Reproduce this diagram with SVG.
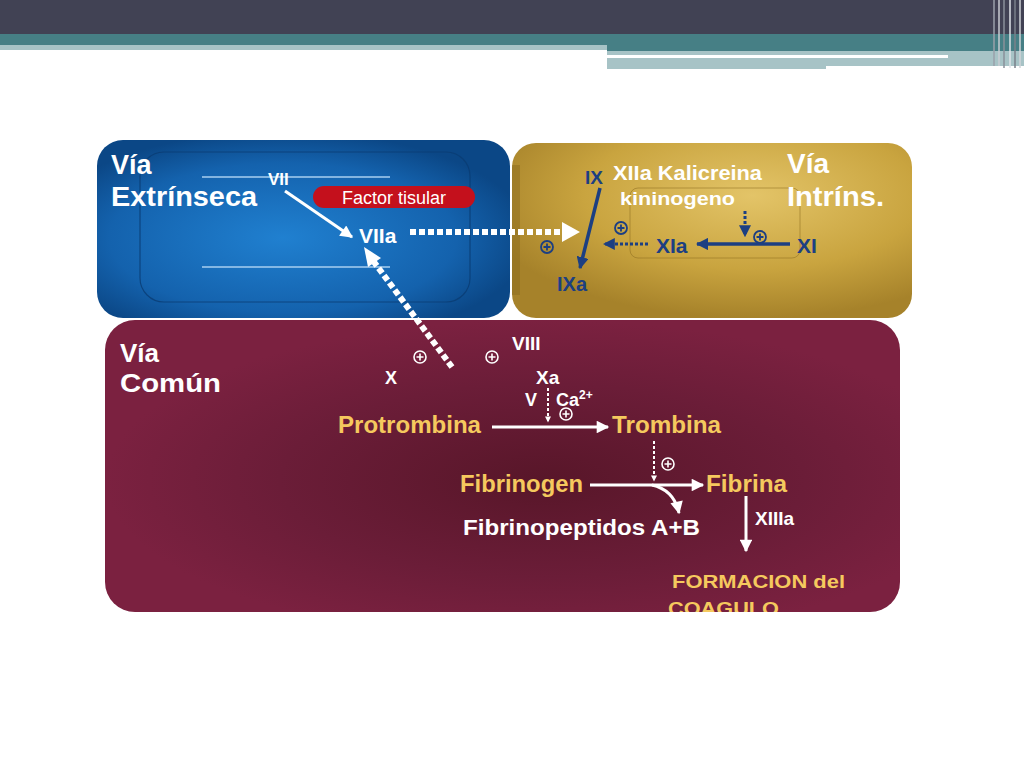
<svg xmlns="http://www.w3.org/2000/svg" width="1024" height="768" viewBox="0 0 1024 768">
<defs>
<style>
.t{font-family:"Liberation Sans",Arial,sans-serif;font-weight:bold}
.w{fill:#ffffff}
.y{fill:#f5c95e}
.b{fill:#1c3f82}
.wl{stroke:#ffffff;fill:none;stroke-width:3}
.bl{stroke:#1c3f82;fill:none;stroke-width:3.5}
.dotw{stroke:#ffffff;fill:none;stroke-width:6;stroke-dasharray:6 3}
.dotb{stroke:#1c3f82;fill:none;stroke-width:3;stroke-dasharray:3 2}
.dotw2{stroke:#ffffff;fill:none;stroke-width:2;stroke-dasharray:3 2}
</style>
<radialGradient id="gBlue" cx="0.45" cy="0.55" r="0.6">
<stop offset="0" stop-color="#2080d0"/><stop offset="0.7" stop-color="#1462ad"/><stop offset="1" stop-color="#0b4786"/>
</radialGradient>
<radialGradient id="gGold" cx="0.6" cy="0.3" r="0.7">
<stop offset="0" stop-color="#e3c468"/><stop offset="0.6" stop-color="#c9a43f"/><stop offset="1" stop-color="#a6822a"/>
</radialGradient>
<radialGradient id="gMar" cx="0.55" cy="0.55" r="0.55">
<stop offset="0" stop-color="#581629"/><stop offset="0.6" stop-color="#6b1d38"/><stop offset="1" stop-color="#7b2140"/>
</radialGradient>
<marker id="ab" viewBox="0 0 10 10" refX="9" refY="5" markerWidth="3.5" markerHeight="3.5" orient="auto" markerUnits="strokeWidth"><path d="M0,0 L10,5 L0,10 z" fill="#1c3f82"/></marker>
<marker id="aws" viewBox="0 0 10 10" refX="9" refY="5" markerWidth="3.5" markerHeight="3" orient="auto" markerUnits="strokeWidth"><path d="M0,0 L10,5 L0,10 z" fill="#ffffff"/></marker>
<marker id="abd" viewBox="0 0 10 10" refX="9" refY="5" markerWidth="4" markerHeight="4" orient="auto" markerUnits="strokeWidth"><path d="M0,0 L10,5 L0,10 z" fill="#1c3f82"/></marker>
<marker id="aww" viewBox="0 0 10 10" refX="9" refY="5" markerWidth="4.6" markerHeight="4.2" orient="auto" markerUnits="strokeWidth"><path d="M0,0 L10,5 L0,10 z" fill="#ffffff"/></marker>
<symbol id="plusW" viewBox="-8 -8 16 16" overflow="visible"><circle r="6" fill="none" stroke="#ffffff" stroke-width="1.6"/><path d="M-3.5,0 H3.5 M0,-3.5 V3.5" stroke="#ffffff" stroke-width="1.6"/></symbol>
<symbol id="plusB" viewBox="-8 -8 16 16" overflow="visible"><circle r="6" fill="none" stroke="#1c3f82" stroke-width="1.8"/><path d="M-3.5,0 H3.5 M0,-3.5 V3.5" stroke="#1c3f82" stroke-width="1.8"/></symbol>
<clipPath id="cMar"><rect x="105" y="320" width="795" height="292" rx="30"/></clipPath>
</defs>
<rect width="1024" height="768" fill="#ffffff"/>
<g id="header">
<rect x="0" y="0" width="1024" height="34" fill="#414254"/>
<rect x="0" y="34" width="1024" height="11" fill="#467f85"/>
<rect x="0" y="45" width="607" height="5" fill="#a7c3c6"/>
<rect x="607" y="45" width="417" height="6" fill="#467f85"/>
<rect x="607" y="51" width="417" height="4" fill="#a7c3c6"/>
<rect x="607" y="55" width="341" height="3" fill="#ffffff"/>
<rect x="948" y="55" width="76" height="3" fill="#a7c3c6"/>
<rect x="607" y="58" width="417" height="8" fill="#a7c3c6"/>
<rect x="607" y="66" width="219" height="3" fill="#a7c3c6"/>
<g stroke-width="1.5">
<line x1="994" y1="0" x2="994" y2="66" stroke="#9aa0aa"/>
<line x1="999" y1="0" x2="999" y2="66" stroke="#c8ccd2"/>
<line x1="1004" y1="0" x2="1004" y2="68" stroke="#8a909a"/>
<line x1="1010" y1="0" x2="1010" y2="68" stroke="#e0e4e8"/>
<line x1="1015" y1="0" x2="1015" y2="68" stroke="#7a808a"/>
<line x1="1020" y1="0" x2="1020" y2="68" stroke="#d0d4d8"/>
</g>
</g>
<g id="via-extrinseca">
<rect x="97" y="140" width="413" height="178" rx="26" fill="url(#gBlue)"/>
<rect x="140" y="152" width="330" height="150" rx="24" fill="none" stroke="#0a3c73" stroke-width="1.2" opacity="0.8"/>
<line x1="202" y1="177" x2="390" y2="177" stroke="#a8cff0" stroke-width="1.5"/>
<line x1="202" y1="267" x2="390" y2="267" stroke="#a8cff0" stroke-width="1.5"/>
<text class="t w" x="111" y="174" font-size="27">Vía</text>
<text class="t w" x="111" y="206" font-size="27" textLength="146" lengthAdjust="spacingAndGlyphs">Extrínseca</text>
<text class="t w" x="268" y="185" font-size="17">VII</text>
<rect x="313" y="186" width="162" height="22" rx="11" fill="#c4101c"/>
<text x="394" y="204" font-family="'Liberation Sans',Arial,sans-serif" font-size="18" fill="#ffffff" text-anchor="middle">Factor tisular</text>
<text class="t w" x="359" y="243" font-size="21">VIIa</text>
</g>
<g id="via-intrinseca">
<rect x="512" y="143" width="400" height="175" rx="24" fill="url(#gGold)"/>
<rect x="512" y="165" width="8" height="130" fill="#8c6c1e" opacity="0.5"/>
<rect x="630" y="188" width="170" height="70" rx="8" fill="none" stroke="#8f6f22" stroke-width="0.8" opacity="0.7"/>
<text class="t b" x="585" y="184" font-size="19">IX</text>
<text class="t w" x="613" y="180" font-size="20" textLength="149" lengthAdjust="spacingAndGlyphs">XIIa Kalicreina</text>
<text class="t w" x="620" y="205" font-size="19" textLength="115" lengthAdjust="spacingAndGlyphs">kininogeno</text>
<text class="t w" x="787" y="173" font-size="28">Vía</text>
<text class="t w" x="787" y="206" font-size="28" textLength="97" lengthAdjust="spacingAndGlyphs">Intríns.</text>
<text class="t b" x="656" y="253" font-size="21">XIa</text>
<text class="t b" x="797" y="253" font-size="21">XI</text>
<text class="t b" x="557" y="291" font-size="20">IXa</text>
<use href="#plusB" x="539" y="239" width="16" height="16"/>
<use href="#plusB" x="613" y="220" width="16" height="16"/>
<use href="#plusB" x="752" y="229" width="16" height="16"/>
</g>
<g id="via-comun">
<rect x="105" y="320" width="795" height="292" rx="30" fill="url(#gMar)"/>
<text class="t w" x="120" y="362" font-size="26">Vía</text>
<text class="t w" x="120" y="392" font-size="26" textLength="101" lengthAdjust="spacingAndGlyphs">Común</text>
<text class="t w" x="385" y="384" font-size="18">X</text>
<text class="t w" x="512" y="350" font-size="19">VIII</text>
<text class="t w" x="536" y="384" font-size="19">Xa</text>
<text class="t w" x="525" y="406" font-size="18">V</text>
<text class="t w" x="556" y="406" font-size="18">Ca<tspan font-size="12" dy="-7">2+</tspan></text>
<use href="#plusW" x="558" y="406" width="16" height="16"/>
<use href="#plusW" x="412" y="349" width="16" height="16"/>
<use href="#plusW" x="484" y="349" width="16" height="16"/>
<use href="#plusW" x="660" y="456" width="16" height="16"/>
<text class="t y" x="338" y="433" font-size="23" textLength="143" lengthAdjust="spacingAndGlyphs">Protrombina</text>
<text class="t y" x="612" y="433" font-size="23" textLength="109" lengthAdjust="spacingAndGlyphs">Trombina</text>
<text class="t y" x="460" y="492" font-size="23" textLength="123" lengthAdjust="spacingAndGlyphs">Fibrinogen</text>
<text class="t y" x="706" y="492" font-size="23" textLength="81" lengthAdjust="spacingAndGlyphs">Fibrina</text>
<text class="t w" x="463" y="535" font-size="22" textLength="237" lengthAdjust="spacingAndGlyphs">Fibrinopeptidos A+B</text>
<text class="t w" x="755" y="525" font-size="19">XIIIa</text>
<g clip-path="url(#cMar)">
<text class="t y" x="672" y="588" font-size="19" textLength="173" lengthAdjust="spacingAndGlyphs">FORMACION del</text>
<text class="t y" x="668" y="615" font-size="19" textLength="111" lengthAdjust="spacingAndGlyphs">COAGULO</text>
</g>
</g>
<g id="connectors">
<line x1="285" y1="191" x2="352" y2="237" class="wl" marker-end="url(#aww)"/>
<line x1="410" y1="232" x2="562" y2="232" class="dotw"/>
<path d="M562,222 L580,232 L562,242 z" fill="#ffffff"/>
<line x1="452" y1="367" x2="374" y2="262" class="dotw"/>
<path d="M364,247 L381,258 L368,267 z" fill="#ffffff"/>
<line x1="600" y1="188" x2="580" y2="268" class="bl" marker-end="url(#ab)"/>
<line x1="790" y1="244" x2="697" y2="244" class="bl" marker-end="url(#ab)"/>
<line x1="648" y1="244" x2="604" y2="244" class="dotb" marker-end="url(#abd)"/>
<line x1="745" y1="211" x2="745" y2="236" class="dotb" marker-end="url(#abd)"/>
<line x1="548" y1="388" x2="548" y2="422" class="dotw2" marker-end="url(#aws)"/>
<line x1="492" y1="427" x2="608" y2="427" class="wl" marker-end="url(#aww)"/>
<line x1="654" y1="441" x2="654" y2="481" class="dotw2" marker-end="url(#aws)"/>
<line x1="590" y1="485" x2="703" y2="485" class="wl" marker-end="url(#aww)"/>
<path d="M652,485 Q674,490 679,513" class="wl" marker-end="url(#aww)"/>
<line x1="746" y1="496" x2="746" y2="551" class="wl" marker-end="url(#aww)"/>
</g>
</svg>
